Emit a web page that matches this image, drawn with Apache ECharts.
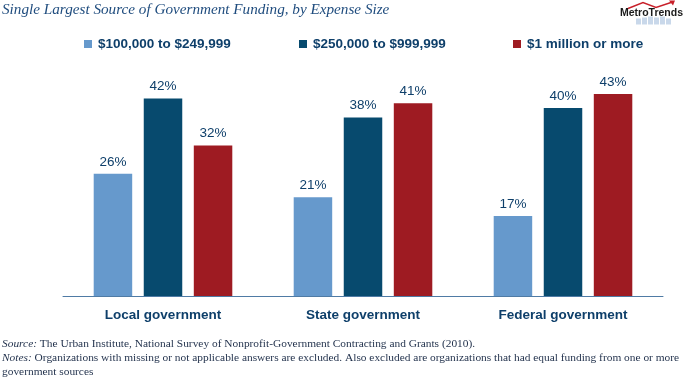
<!DOCTYPE html>
<html>
<head>
<meta charset="utf-8">
<script src="https://cdn.jsdelivr.net/npm/echarts@6/dist/echarts.min.js"></script>
<style>
html,body{margin:0;padding:0;background:#fff;}
#chart{width:685px;height:383px;}
</style>
</head>
<body>
<div id="chart"></div>
<script>
const categories = ['Local government', 'State government', 'Federal government'];
const seriesNames = ['$100,000 to $249,999', '$250,000 to $999,999', '$1 million or more'];
const small = [26, 21, 17];
const medium = [42, 38, 40];
const large = [32, 41, 43];
const colors = ['#6699CC', '#074A6E', '#9E1B22'];
const titleText = 'Single Largest Source of Government Funding, by Expense Size';

const chart = echarts.init(document.getElementById('chart'), null, {renderer: 'canvas'});
const textColor = '#0E3F6A';
const mkSeries = (name, data, color) => ({
  name, type: 'bar', data,
  barWidth: 38.5, barGap: '30%',
  itemStyle: {color},
  label: {show: true, position: 'top', distance: 5, formatter: '{c}%',
    color: textColor, fontFamily: 'Liberation Sans, Arial, sans-serif', fontSize: 13.5},
  emphasis: {disabled: true}
});
const legendBase = {
  top: 37, itemWidth: 8, itemHeight: 8, icon: 'rect', padding: 0, itemGap: 0,
  textStyle: {color: textColor, fontFamily: 'Liberation Sans, Arial, sans-serif', fontWeight: 'bold', fontSize: 13.5, padding: [0,0,0,1]},
  selectedMode: false
};
chart.setOption({
  animation: false,
  title: {text: titleText, left: 2, top: 3, padding: 0,
    textStyle: {fontFamily: 'Liberation Serif, serif', fontStyle: 'italic', fontWeight: 'normal', fontSize: 15.2, color: '#1F4C7E'}},
  legend: [
    Object.assign({}, legendBase, {left: 84, data: [seriesNames[0]]}),
    Object.assign({}, legendBase, {left: 299, data: [seriesNames[1]]}),
    Object.assign({}, legendBase, {left: 513, data: [seriesNames[2]]})
  ],
  grid: {left: 63, right: 22, top: 61, bottom: 87, containLabel: false},
  xAxis: {type: 'category', data: categories,
    axisLine: {lineStyle: {color: '#4F7BA5', width: 1}},
    axisTick: {show: false},
    axisLabel: {color: textColor, fontFamily: 'Liberation Sans, Arial, sans-serif', fontWeight: 'bold', fontSize: 13.5, margin: 12}},
  yAxis: {type: 'value', min: 0, max: 50, show: false, splitLine: {show: false}},
  series: [
    mkSeries(seriesNames[0], small, colors[0]),
    mkSeries(seriesNames[1], medium, colors[1]),
    mkSeries(seriesNames[2], large, colors[2])
  ],
  graphic: [
    {type: 'text', left: 2, top: 337, style: {
      text: '{i|Source:} The Urban Institute, National Survey of Nonprofit-Government Contracting and Grants (2010).\n{i|Notes:} Organizations with missing or not applicable answers are excluded. Also excluded are organizations that had equal funding from one or more\ngovernment sources',
      fontFamily: 'Liberation Serif, serif', fontSize: 11.4, lineHeight: 14, fill: '#1F2F4A',
      rich: {i: {fontStyle: 'italic', fontFamily: 'Liberation Serif, serif', fontSize: 11.4, lineHeight: 14, fill: '#1F2F4A'}}
    }},
    {type: 'group', left: 620, top: 0, children: [
      {type: 'rect', shape: {x: 18, y: 18, width: 5, height: 6}, style: {fill: '#C9D8EA'}},
      {type: 'rect', shape: {x: 24, y: 17, width: 5, height: 7}, style: {fill: '#C9D8EA'}},
      {type: 'rect', shape: {x: 30, y: 16, width: 5, height: 8}, style: {fill: '#C9D8EA'}},
      {type: 'rect', shape: {x: 36, y: 17, width: 5, height: 7}, style: {fill: '#C9D8EA'}},
      {type: 'rect', shape: {x: 42, y: 16, width: 5, height: 8}, style: {fill: '#C9D8EA'}},
      {type: 'rect', shape: {x: 48, y: 18, width: 5, height: 6}, style: {fill: '#C9D8EA'}},
      {type: 'polyline', shape: {points: [[10, 8], [25, 2], [38, 7], [53, 2]]}, style: {stroke: '#C8202A', lineWidth: 1.5, fill: null}},
      {type: 'polygon', shape: {points: [[57, 0], [51, 0], [55, 5]]}, style: {fill: '#C8202A'}},
      {type: 'text', x: 2, y: 7.5, style: {text: 'MetroTrends', fontFamily: 'Liberation Sans, Arial, sans-serif', fontWeight: 'bold', fontSize: 10.5, fill: '#1A1A1A'}}
    ]}
  ]
});
</script>
</body>
</html>
